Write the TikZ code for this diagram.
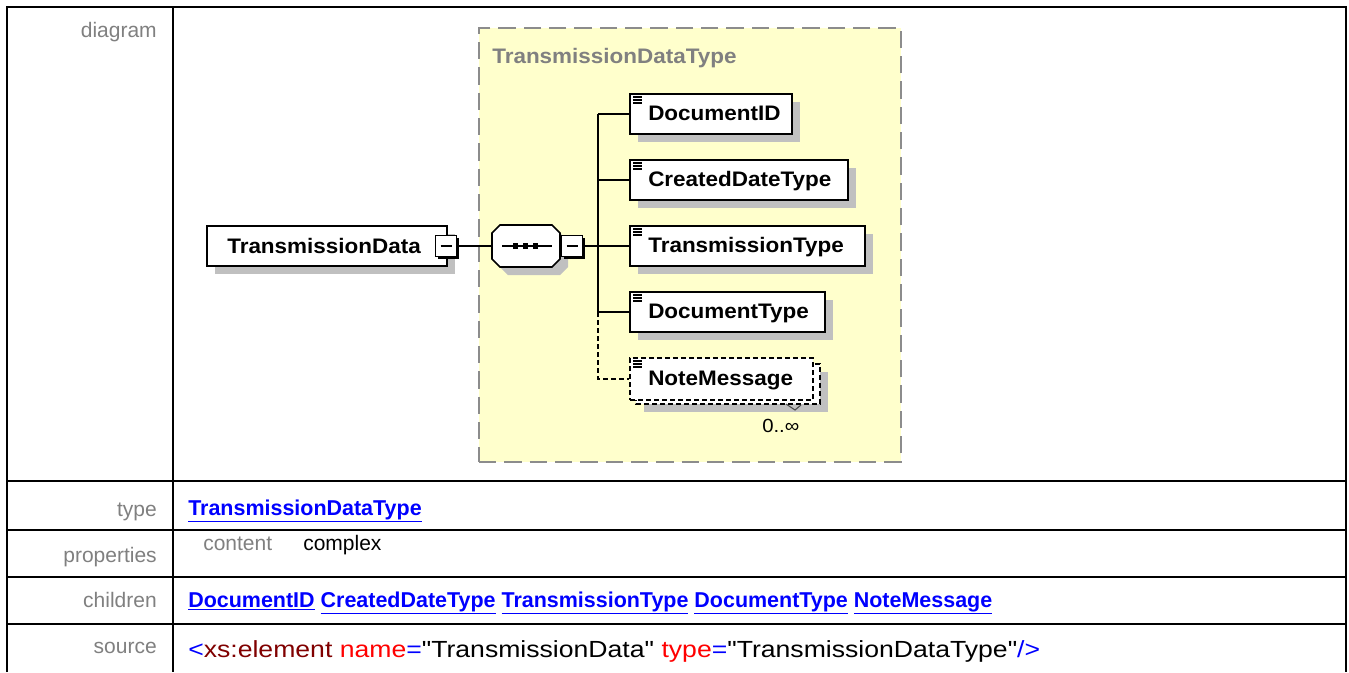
\documentclass[tikz,border=0pt]{standalone}
\usepackage{fontspec}
\setmainfont{Liberation Sans}
\newfontfamily\diagfont[FakeStretch=1.07]{Liberation Sans}
\newfontfamily\srcfont[FakeStretch=1.14]{Liberation Sans}
\usetikzlibrary{fit,calc}
\definecolor{lblgray}{RGB}{128,128,128}
\definecolor{shadowc}{RGB}{192,192,192}
\definecolor{yellowbg}{RGB}{255,255,204}
\definecolor{dashgray}{RGB}{140,140,140}
\definecolor{linkblue}{RGB}{0,0,255}
\definecolor{xmlmaroon}{RGB}{128,0,0}
\definecolor{attrred}{RGB}{255,0,0}
\tikzset{
  tableline/.style={line width=1.2pt, black},
  lbl/.style={anchor=base east, inner sep=0, text=lblgray, font=\fontsize{15.75}{18}\selectfont},
  plaintext/.style={anchor=base west, inner sep=0, font=\fontsize{15.75}{18}\selectfont},
  link/.style={anchor=base west, inner sep=0, text=linkblue, font=\fontsize{16.1}{18}\selectfont\bfseries},
  elembox/.style={draw=black, line width=1.5pt, fill=white, inner sep=0},
  elemtext/.style={anchor=base west, inner sep=0, font=\diagfont\fontsize{15.75}{18}\selectfont\bfseries},
  conn/.style={line width=1.3pt, black},
  optconn/.style={line width=1.3pt, black, dash pattern=on 3.5pt off 2.5pt},
  minusbox/.style={draw=black, line width=1.1pt, fill=white, minimum size=16pt, inner sep=0},
}
\newcommand\xelem[6]{%
  \fill[shadowc] (#2+8,#3+8) rectangle (#4+8,#5+8);
  \node[elembox, fit={(#2,#3) (#4,#5)}] (#1) {};
  \draw[line width=1pt] (#2+3,#3+3) -- (#2+12,#3+3) (#2+3,#3+6) -- (#2+12,#3+6) (#2+3,#3+9) -- (#2+12,#3+9);
  \node[elemtext] (#1-t) at (#2+18,{(#3+#5)/2+6.5}) {#6};
}
\begin{document}
\begin{tikzpicture}[x=0.75pt,y=-0.75pt]
\useasboundingbox (0,0) rectangle (1349,672);
\fill[white] (0,0) rectangle (1349,672);

% table
\draw[tableline] (7,672) -- (7,7) -- (1346,7) -- (1346,672);
\draw[tableline] (173,7) -- (173,672);
\foreach \yy in {481,530,577,624} \draw[tableline] (7,\yy) -- (1346,\yy);

% labels
\node[lbl] (l-diagram) at (157,37) {diagram};
\node[lbl] (l-type) at (157,516) {type};
\node[lbl] (l-props) at (157,562) {properties};
\node[lbl] (l-children) at (157,607) {children};
\node[lbl] (l-source) at (157,653) {source};

% row contents
\node[link] (typelink) at (188,515) {\underline{TransmissionDataType}};
\node[plaintext, text=lblgray] (contentlbl) at (203,550) {content};
\node[plaintext] (contentval) at (303,550) {complex};
\node[link] (childlinks) at (188,607) {\underline{DocumentID} \underline{CreatedDateType} \underline{TransmissionType} \underline{DocumentType} \underline{NoteMessage}};
\node[anchor=base west, inner sep=0, font=\srcfont\fontsize{17.5}{20}\selectfont] (srcline) at (188,657)
  {\textcolor{linkblue}{<}\textcolor{xmlmaroon}{xs:element} \textcolor{attrred}{name}\textcolor{linkblue}{=}"TransmissionData" \textcolor{attrred}{type}\textcolor{linkblue}{=}"TransmissionDataType"\textcolor{linkblue}{/>}};

% complex type box
\node[draw=dashgray, fill=yellowbg, line width=1.5pt, dash pattern=on 13pt off 6pt, inner sep=0, fit={(479,28) (901,462)}] (ctype) {};
\node[elemtext, text=lblgray] (ctype-t) at (492,63) {TransmissionDataType};

% root element
\fill[shadowc] (215,234) rectangle (455,274);
\node[elembox, fit={(207,226) (447,266)}] (root) {};
\node[elemtext] (root-t) at (227,253) {TransmissionData};
\fill[black] (438,238) rectangle (459,259);
\node[minusbox] (rootm) at (446,246) {};
\draw[line width=1.2pt] (440.5,246) -- (451.5,246);

% sequence compositor
\fill[shadowc] (508,233) -- (560,233) -- (568,241) -- (568,267) -- (560,275) -- (508,275) -- (500,267) -- (500,241) -- cycle;
\draw[line width=1.3pt, fill=white] (500,225) -- (552,225) -- (560,233) -- (560,259) -- (552,267) -- (500,267) -- (492,259) -- (492,233) -- cycle;
\coordinate (seqL) at (492,246);
\draw[line width=1.1pt] (502,246) -- (552,246);
\foreach \xx in {515.5,525.5,535.5} \fill (\xx-2.8,243.2) rectangle (\xx+2.8,248.8);
\fill[black] (564,238) rectangle (585,259);
\node[minusbox] (seqm) at (572,246) {};
\draw[line width=1.2pt] (566.5,246) -- (577.5,246);
\draw[conn] (rootm.east) -- (seqL);

% children
\xelem{c1}{630}{94}{792}{134}{DocumentID}
\xelem{c2}{630}{160}{848}{200}{CreatedDateType}
\xelem{c3}{630}{226}{865}{266}{TransmissionType}
\xelem{c4}{630}{292}{825}{332}{DocumentType}

% optional repeated child
\fill[shadowc] (644,372) rectangle (828,412);
\draw[line width=1.2pt, dash pattern=on 3.5pt off 2.5pt, fill=white] (636,364) rectangle (820,404);
\node[elembox, dash pattern=on 3.5pt off 2.5pt, line width=1.2pt, fit={(630,358) (813,400)}] (c5) {};
\draw[line width=1pt] (633,361) -- (642,361) (633,364) -- (642,364) (633,367) -- (642,367);
\node[elemtext] (c5-t) at (648,385.5) {NoteMessage};
\draw[line width=0.8pt, black!70] (786,404) -- (795,410) -- (801,405);
\node[anchor=base west, inner sep=0, font=\diagfont\fontsize{14.25}{16}\selectfont] (c5-card) at (762,432) {0..∞};

% bus connectors
\coordinate (b1) at (598,114);
\coordinate (b4) at (598,312);
\draw[conn] (seqm.east) -- (c3.west);
\draw[conn] (b1) -- (b4);
\draw[conn] (b1) -- (c1.west);
\draw[conn] (598,180) -- (c2.west);
\draw[conn] (b4) -- (c4.west);
\draw[optconn] (b4) |- (c5.west);
\end{tikzpicture}
\end{document}
